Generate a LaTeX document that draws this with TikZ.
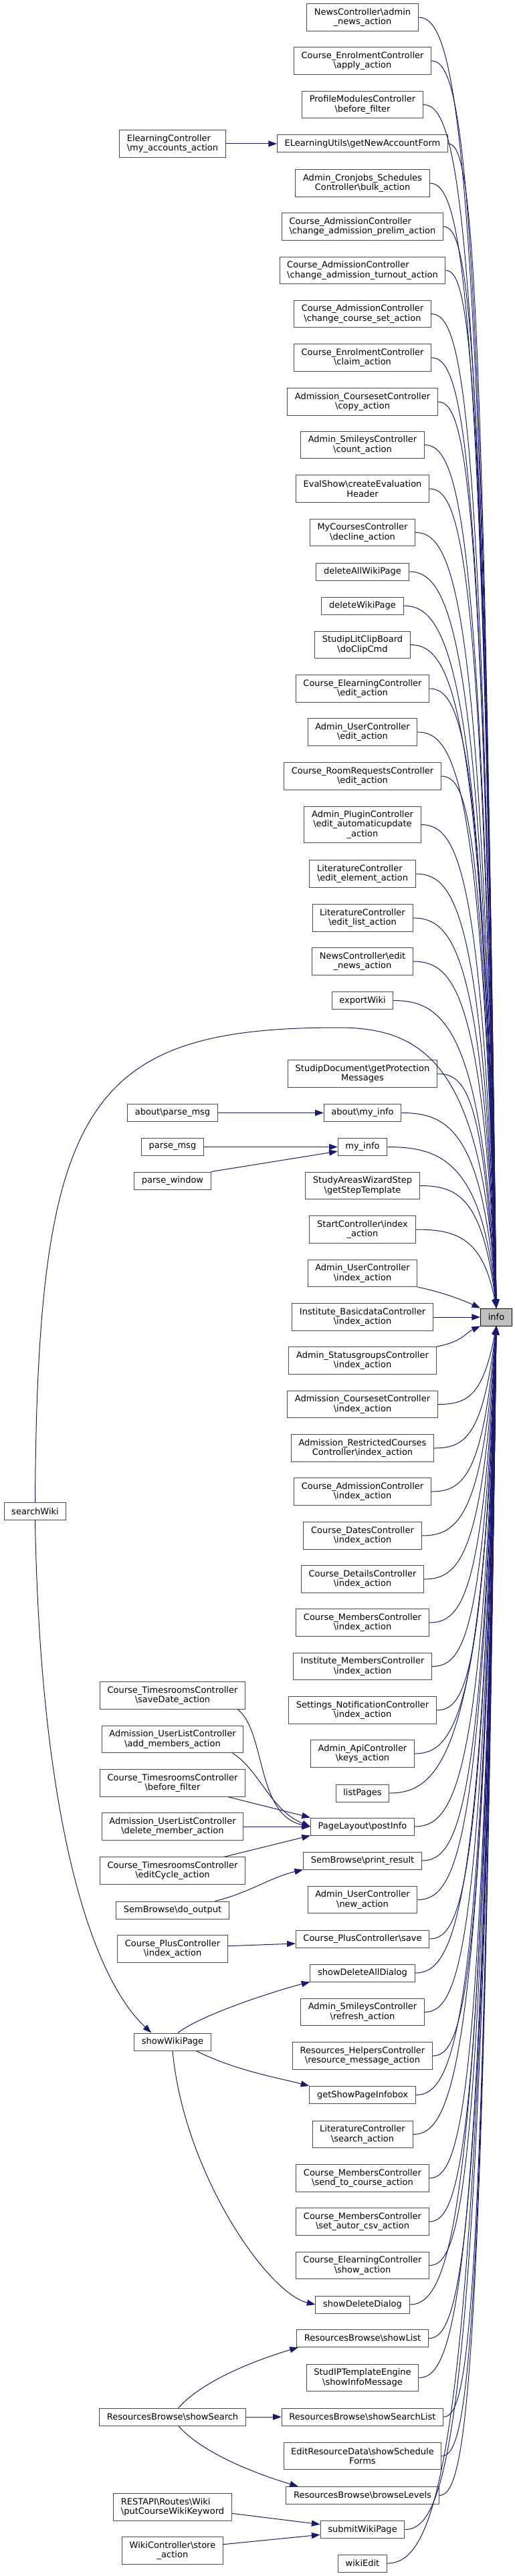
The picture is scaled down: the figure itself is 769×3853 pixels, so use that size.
\documentclass[tikz,border=0pt]{standalone}
\usepackage{fontspec}
\setmainfont{DejaVu Sans}
\usepackage{tikz}
\usepackage{xcolor}
\usetikzlibrary{calc,arrows.meta}
\definecolor{edgeblue}{HTML}{191970}
\newcommand{\bsl}{\textbackslash}
\tikzset{>={Triangle[length=9.5pt,width=6.8pt]}}
\tikzset{
  fn/.style={draw=black!70, line width=0.75pt, fill=white, align=center,
    font=\fontsize{9.75pt}{10.8pt}\selectfont, inner xsep=8.4pt, inner ysep=0pt,
    minimum height=19.5pt},
  fn2/.style={fn, minimum height=30.3pt},
  fn3/.style={fn, minimum height=41.1pt},
  call/.style={->, draw=edgeblue, line width=0.75pt},
}

\begin{document}
\begin{tikzpicture}[x=0.75pt, y=-0.75pt]
  \useasboundingbox (0,0) rectangle (769,3853);

  \node[fn, fill=gray!50, draw=black] (info) at (742,1970) {info};

  \node[fn2] (newsadmin) at (542,26) {NewsController\bsl admin\\\_news\_action};
  \node[fn2] (applyact) at (542,91) {Course\_EnrolmentController\\\bsl apply\_action};
  \node[fn2] (profilebf) at (542,156.5) {ProfileModulesController\\\bsl before\_filter};
  \node[fn] (getnewacc) at (542,215) {ELearningUtils\bsl getNewAccountForm};
  \node[fn2] (cronbulk) at (542,274) {Admin\_Cronjobs\_Schedules\\Controller\bsl bulk\_action};
  \node[fn2, align=left] (admprelim) at (542,339) {Course\_AdmissionController\\\bsl change\_admission\_prelim\_action};
  \node[fn2, align=left] (admturnout) at (542,404.5) {Course\_AdmissionController\\\bsl change\_admission\_turnout\_action};
  \node[fn2] (admcourseset) at (542,469.5) {Course\_AdmissionController\\\bsl change\_course\_set\_action};
  \node[fn2] (enrolclaim) at (542,535) {Course\_EnrolmentController\\\bsl claim\_action};
  \node[fn2] (csetcopy) at (542,601) {Admission\_CoursesetController\\\bsl copy\_action};
  \node[fn2] (smileycount) at (542,665.5) {Admin\_SmileysController\\\bsl count\_action};
  \node[fn2] (evalheader) at (542,731) {EvalShow\bsl createEvaluation\\Header};
  \node[fn2] (mydecline) at (542,796.5) {MyCoursesController\\\bsl decline\_action};
  \node[fn] (delallwiki) at (542,855) {deleteAllWikiPage};
  \node[fn] (delwiki) at (542,906) {deleteWikiPage};
  \node[fn2] (clipcmd) at (542,964.5) {StudipLitClipBoard\\\bsl doClipCmd};
  \node[fn2] (elearnedit) at (542,1030) {Course\_ElearningController\\\bsl edit\_action};
  \node[fn2] (useredit) at (542,1095) {Admin\_UserController\\\bsl edit\_action};
  \node[fn2] (roomedit) at (542,1161) {Course\_RoomRequestsController\\\bsl edit\_action};
  \node[fn3] (pluginedit) at (542,1233.5) {Admin\_PluginController\\\bsl edit\_automaticupdate\\\_action};
  \node[fn2, align=left] (litelement) at (542,1307) {LiteratureController\\\bsl edit\_element\_action};
  \node[fn2] (litlist) at (542,1373) {LiteratureController\\\bsl edit\_list\_action};
  \node[fn2] (newsedit) at (542,1438) {NewsController\bsl edit\\\_news\_action};
  \node[fn] (exportwiki) at (542,1496.5) {exportWiki};
  \node[fn2] (protmsg) at (542,1606) {StudipDocument\bsl getProtection\\Messages};
  \node[fn] (aboutinfo) at (542,1664.5) {about\bsl my\_info};
  \node[fn] (myinfo) at (542,1715.5) {my\_info};
  \node[fn2] (steptemplate) at (542,1773.5) {StudyAreasWizardStep\\\bsl getStepTemplate};
  \node[fn2] (startindex) at (542,1839) {StartController\bsl index\\\_action};
  \node[fn2] (userindex) at (542,1904.5) {Admin\_UserController\\\bsl index\_action};
  \node[fn2] (instbasic) at (542,1970) {Institute\_BasicdataController\\\bsl index\_action};
  \node[fn2] (statusgroups) at (542,2035) {Admin\_StatusgroupsController\\\bsl index\_action};
  \node[fn2] (csetindex) at (542,2100.5) {Admission\_CoursesetController\\\bsl index\_action};
  \node[fn2] (restrindex) at (542,2166) {Admission\_RestrictedCourses\\Controller\bsl index\_action};
  \node[fn2] (admindex) at (542,2231) {Course\_AdmissionController\\\bsl index\_action};
  \node[fn2] (datesindex) at (542,2297) {Course\_DatesController\\\bsl index\_action};
  \node[fn2] (detailsindex) at (542,2362) {Course\_DetailsController\\\bsl index\_action};
  \node[fn2] (membersindex) at (542,2427) {Course\_MembersController\\\bsl index\_action};
  \node[fn2] (instmembers) at (542,2492.5) {Institute\_MembersController\\\bsl index\_action};
  \node[fn2] (notifindex) at (542,2558) {Settings\_NotificationController\\\bsl index\_action};
  \node[fn2] (apikeys) at (542,2623) {Admin\_ApiController\\\bsl keys\_action};
  \node[fn] (listpages) at (542,2682) {listPages};
  \node[fn] (postinfo) at (542,2732) {PageLayout\bsl postInfo};
  \node[fn] (printresult) at (542,2783) {SemBrowse\bsl print\_result};
  \node[fn2] (usernew) at (542,2841.5) {Admin\_UserController\\\bsl new\_action};
  \node[fn] (plussave) at (542,2900) {Course\_PlusController\bsl save};
  \node[fn] (showdelall) at (542,2951) {showDeleteAllDialog};
  \node[fn2] (smileyrefresh) at (542,3009.5) {Admin\_SmileysController\\\bsl refresh\_action};
  \node[fn2] (resmessage) at (542,3075) {Resources\_HelpersController\\\bsl resource\_message\_action};
  \node[fn] (infobox) at (542,3133.5) {getShowPageInfobox};
  \node[fn2] (litsearch) at (542,3192.5) {LiteratureController\\\bsl search\_action};
  \node[fn2] (sendcourse) at (542,3258) {Course\_MembersController\\\bsl send\_to\_course\_action};
  \node[fn2] (autorcsv) at (542,3323) {Course\_MembersController\\\bsl set\_autor\_csv\_action};
  \node[fn2] (elearnshow) at (542,3388.5) {Course\_ElearningController\\\bsl show\_action};
  \node[fn] (showdel) at (542,3447) {showDeleteDialog};
  \node[fn] (showlist) at (542,3497.5) {ResourcesBrowse\bsl showList};
  \node[fn2] (infomessage) at (542,3556.5) {StudIPTemplateEngine\\\bsl showInfoMessage};
  \node[fn] (searchlist) at (542,3615) {ResourcesBrowse\bsl showSearchList};
  \node[fn2] (scheduleforms) at (542,3673.5) {EditResourceData\bsl showSchedule\\Forms};
  \node[fn] (browselevels) at (542,3732.5) {ResourcesBrowse\bsl browseLevels};
  \node[fn] (submitwiki) at (542,3783.5) {submitWikiPage};
  \node[fn] (wikiedit) at (542,3834) {wikiEdit};

  \node[fn2, align=left] (myaccounts) at (258,215) {ElearningController\\\bsl my\_accounts\_action};
  \node[fn] (parsemsgabout) at (258,1664.5) {about\bsl parse\_msg};
  \node[fn] (parsemsg) at (258,1715.5) {parse\_msg};
  \node[fn] (parsewindow) at (258,1766) {parse\_window};
  \node[fn2] (tsavedate) at (258,2536) {Course\_TimesroomsController\\\bsl saveDate\_action};
  \node[fn2] (addmembers) at (258,2601.5) {Admission\_UserListController\\\bsl add\_members\_action};
  \node[fn2] (tbefore) at (258,2667) {Course\_TimesroomsController\\\bsl before\_filter};
  \node[fn2] (delmember) at (258,2732) {Admission\_UserListController\\\bsl delete\_member\_action};
  \node[fn2] (teditcycle) at (258,2798) {Course\_TimesroomsController\\\bsl editCycle\_action};
  \node[fn] (dooutput) at (258,2857) {SemBrowse\bsl do\_output};
  \node[fn2] (plusindex) at (258,2915) {Course\_PlusController\\\bsl index\_action};
  \node[fn] (showwiki) at (258,3054) {showWikiPage};
  \node[fn] (showsearch) at (258,3615) {ResourcesBrowse\bsl showSearch};
  \node[fn2, align=left] (restwiki) at (258,3750) {RESTAPI\bsl Routes\bsl Wiki\\\bsl putCourseWikiKeyword};
  \node[fn2] (wikistore) at (258,3815) {WikiController\bsl store\\\_action};
  \node[fn] (searchwiki) at (52.5,2260.5) {searchWiki};

  \foreach \n in {newsadmin, applyact, profilebf, getnewacc, cronbulk, admprelim,
      admturnout, admcourseset, enrolclaim, csetcopy, smileycount, evalheader,
      mydecline, delallwiki, delwiki, clipcmd, elearnedit, useredit, roomedit,
      pluginedit, litelement, litlist, newsedit, exportwiki, protmsg, aboutinfo,
      myinfo, steptemplate, startindex}
    \draw[call] (\n.east) .. controls ($(\n.east)!0.5!(info.north |- \n.east)$)
      and ($(info.north |- \n.east)!0.1!(info.north)+(-20,0)$) .. (info.north);
  \foreach \n in {csetindex, restrindex, admindex, datesindex, detailsindex,
      membersindex, instmembers, notifindex, apikeys, listpages, postinfo,
      printresult, usernew, plussave, showdelall, smileyrefresh, resmessage,
      infobox, litsearch, sendcourse, autorcsv, elearnshow, showdel, showlist,
      infomessage, searchlist, scheduleforms, browselevels, submitwiki, wikiedit}
    \draw[call] (\n.east) .. controls ($(\n.east)!0.5!(info.south |- \n.east)$)
      and ($(info.south |- \n.east)!0.1!(info.south)+(-20,0)$) .. (info.south);
  \draw[call] (userindex.south east) .. controls +(40,8) and +(-22,-10) .. (info.north west);
  \draw[call] (instbasic.east) -- (info.west);
  \draw[call] (statusgroups.north east) .. controls +(40,-8) and +(-22,10) .. (info.south west);
  \draw[call] (searchwiki.north) .. controls (56,1650) and (130,1537) .. (506,1537)
    .. controls (640,1537) and (722,1600) .. (info.north);

  \draw[call] (myaccounts.east) -- (getnewacc.west);
  \draw[call] (parsemsgabout.east) -- (aboutinfo.west);
  \draw[call] (parsemsg.east) -- (myinfo.west);
  \draw[call] (parsewindow.north east) -- (myinfo.190);
  \draw[call] (tsavedate.348) .. controls +(42,33) and +(-81,-17) .. (postinfo.west);
  \draw[call] (addmembers.347) .. controls +(40,25) and +(-60,-25) .. (postinfo.west);
  \draw[call] (tbefore.346) -- (postinfo.north west);
  \draw[call] (delmember.east) -- (postinfo.west);
  \draw[call] (teditcycle.15) -- (postinfo.south west);
  \draw[call] (dooutput.12) .. controls +(50,-12) and +(-50,12) .. (printresult.south west);
  \draw[call] (plusindex.3) -- (plussave.184);
  \draw[call] (searchwiki.south) .. controls (60,2700) and (130,2950) .. (showwiki.157);
  \draw[call] (showwiki.60) .. controls +(40,-30) and +(-40,10) .. (showdelall.south west);
  \draw[call] (showwiki.339) .. controls +(60,30) and +(-45,-12) .. (infobox.north west);
  \draw[call] (showwiki.south) .. controls (275,3250) and (400,3430) .. (showdel.west);
  \draw[call] (showsearch.57) .. controls +(40,-45) and +(-50,15) .. (showlist.188);
  \draw[call] (showsearch.east) -- (searchlist.west);
  \draw[call] (showsearch.303) .. controls +(40,45) and +(-50,-15) .. (browselevels.172);
  \draw[call] (restwiki.354) -- (submitwiki.173);
  \draw[call] (wikistore.7) -- (submitwiki.187);
\end{tikzpicture}
\end{document}
